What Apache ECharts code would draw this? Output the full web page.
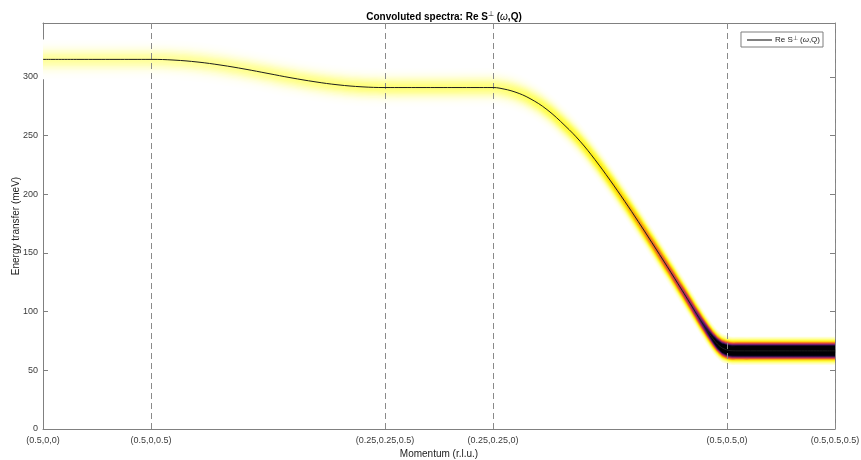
<!DOCTYPE html>
<html><head><meta charset="utf-8">
<script src="https://cdn.jsdelivr.net/npm/echarts@6/dist/echarts.min.js"></script>
<style>html,body{margin:0;padding:0;background:#fff}#c{width:861px;height:460px}</style>
</head><body><div id="c"></div>
<script>
// ---- data ----
const tickPositions = [0, 108, 342, 450, 684, 792];
const tickLabels = ['(0.5,0,0)', '(0.5,0,0.5)', '(0.25,0.25,0.5)', '(0.25,0.25,0)', '(0.5,0.5,0)', '(0.5,0.5,0.5)'];
const energyTicks = [0, 50, 100, 150, 200, 250, 300];
const momentum = [0, 36, 72, 108, 131, 155, 178, 202, 225, 248, 272, 295, 319, 342, 378, 414, 450,
  457, 472, 487, 504, 522, 537, 552, 567, 582, 595, 609, 624, 639, 647, 654, 661, 667, 672, 677, 681, 687, 695,
  720, 756, 792];
const energy = [315, 315, 315, 315, 314.4, 312.7, 310.1, 306.7, 303, 299.3, 295.9, 293.3, 291.6, 291, 291, 291, 291,
  290.4, 287.2, 281.6, 272.2, 258.5, 245.3, 229.5, 212.1, 193.7, 177.1, 158.7, 138.7, 118.3, 107.2, 97.4, 88.0, 80.3, 74.7, 70.4, 68.3, 66.8, 66.6,
  66.6, 66.6, 66.6];
const intensity = [0.075, 0.075, 0.075, 0.075, 0.077, 0.079, 0.082, 0.085, 0.088, 0.091, 0.094, 0.097, 0.1, 0.1, 0.1, 0.1, 0.1,
  0.1, 0.11, 0.125, 0.145, 0.17, 0.19, 0.22, 0.26, 0.31, 0.37, 0.44, 0.52, 0.61, 0.68, 0.76, 0.86, 1.0, 1.2, 1.4, 1.6, 1.72, 1.75,
  1.75, 1.75, 1.75];
const seriesName = 'Re S⊥ (ω,Q)';

// ---- colour map (white -> yellow -> orange -> red -> purple -> black) ----
const cmapStops = [[0, '#ffffff'], [0.12, '#ffff60'], [0.22, '#ffee10'], [0.32, '#fbb010'], [0.42, '#f07020'],
  [0.52, '#d84040'], [0.62, '#a82a62'], [0.72, '#761c6e'], [0.82, '#451070'], [0.91, '#1a0c40'], [1, '#000004']];
function hexRgb(h) { return [parseInt(h.substr(1, 2), 16), parseInt(h.substr(3, 2), 16), parseInt(h.substr(5, 2), 16)]; }
function cmap(v) {
  v = Math.max(0, Math.min(1, v));
  for (let i = 1; i < cmapStops.length; i++) {
    if (v <= cmapStops[i][0]) {
      const a = cmapStops[i - 1], b = cmapStops[i];
      const t = (v - a[0]) / (b[0] - a[0]);
      const ca = hexRgb(a[1]), cb = hexRgb(b[1]);
      return 'rgb(' + ca.map((c, k) => Math.round(c + (cb[k] - c) * t)).join(',') + ')';
    }
  }
  return cmapStops[cmapStops.length - 1][1];
}
function sigmaOf(E) { return 3.6 + 0.0065 * E; }
const layerEdges = [];
for (let d = 3.0; d > 0.05; d -= 0.2) layerEdges.push(d);

function renderGlow(params, api) {
  const n = momentum.length, ext = 40;
  const xs = [momentum[0] - ext].concat(momentum, [momentum[n - 1] + ext]);
  const es = [energy[0]].concat(energy, [energy[n - 1]]);
  const is = [intensity[0]].concat(intensity, [intensity[n - 1]]);
  const x0 = api.coord([xs[0], 0])[0], x1 = api.coord([xs[xs.length - 1], 0])[0];
  const children = [];
  layerEdges.forEach(function (d) {
    const dm = Math.max(d - 0.1, 0);
    const g = Math.exp(-dm * dm / 2);
    const up = [], lo = [];
    for (let i = 0; i < xs.length; i++) {
      const s = sigmaOf(es[i]) * d;
      up.push(api.coord([xs[i], es[i] + s]));
      lo.push(api.coord([xs[i], es[i] - s]));
    }
    const pts = up.concat(lo.reverse());
    const stops = xs.map(function (x, i) {
      return { offset: (api.coord([x, 0])[0] - x0) / (x1 - x0), color: cmap(is[i] * g) };
    });
    children.push({
      type: 'polygon', silent: true,
      shape: { points: pts, smooth: 0.4 },
      style: { fill: new echarts.graphic.LinearGradient(x0, 0, x1, 0, stops, true), lineWidth: 0 }
    });
  });
  return { type: 'group', children: children };
}

const axisCol = '#808080', labCol = '#3a3a3a', FF = 'Liberation Sans, Arial, sans-serif';
const chart = echarts.init(document.getElementById('c'), null, { renderer: 'canvas' });
chart.setOption({
  animation: false,
  backgroundColor: '#ffffff',
  title: {
    text: 'Convoluted spectra: Re S{sup|⊥} ({w|ω},Q)',
    left: 439, top: 6, textAlign: 'center',
    textStyle: {
      fontSize: 10, fontWeight: 'bold', fontFamily: FF, color: '#000',
      rich: { sup: { fontSize: 7, fontWeight: 'normal', verticalAlign: 'top', padding: [0, 0, 5, 0] },
              w: { fontSize: 10, fontWeight: 'normal', fontStyle: 'italic' } }
    }
  },
  legend: {
    data: [seriesName], right: 38, top: 32, padding: [3, 3, 3, 6],
    icon: 'rect', itemWidth: 25, itemHeight: 1, itemGap: 4,
    borderColor: '#7f7f7f', borderWidth: 1, backgroundColor: '#fff',
    formatter: function () { return 'Re S{sup|⊥} ({w|ω},Q)'; },
    textStyle: { fontSize: 8, color: '#222', fontFamily: FF, padding: [0, 0, 0, -2],
      rich: { sup: { fontSize: 6, verticalAlign: 'top', padding: [0, 0, 4, 0] }, w: { fontStyle: 'italic' } } }
  },
  grid: { left: 43, right: 26, top: 23, bottom: 31, containLabel: false, outerBoundsMode: 'none' },
  xAxis: [{
    type: 'value', min: 0, max: 792, position: 'bottom',
    name: 'Momentum (r.l.u.)', nameLocation: 'middle', nameGap: 20, nameMoveOverlap: false,
    nameTextStyle: { fontSize: 10, color: '#222', fontFamily: FF },
    axisLine: { show: true, onZero: false, lineStyle: { color: axisCol, width: 1 } },
    axisTick: { show: true, inside: true, length: 5, customValues: tickPositions, lineStyle: { color: axisCol } },
    axisLabel: { show: true, customValues: tickPositions, margin: 7, fontSize: 9, color: labCol, fontFamily: FF,
      hideOverlap: false,
      formatter: function (v) { const i = tickPositions.indexOf(v); return i >= 0 ? tickLabels[i] : ''; } },
    splitLine: { show: false }
  }, {
    type: 'value', min: 0, max: 792, position: 'top',
    axisLine: { show: true, onZero: false, lineStyle: { color: axisCol, width: 1 } },
    axisTick: { show: true, inside: true, length: 5, customValues: tickPositions, lineStyle: { color: axisCol } },
    axisLabel: { show: false }, splitLine: { show: false }
  }],
  yAxis: [{
    type: 'value', min: 0, max: 346, position: 'left',
    name: 'Energy transfer (meV)', nameLocation: 'middle', nameGap: 22, nameRotate: 90, nameMoveOverlap: false,
    nameTextStyle: { fontSize: 10, color: '#222', fontFamily: FF },
    axisLine: { show: true, onZero: false, lineStyle: { color: axisCol, width: 1 } },
    axisTick: { show: true, inside: true, length: 5, customValues: energyTicks, lineStyle: { color: axisCol } },
    axisLabel: { show: true, customValues: energyTicks, margin: 5, fontSize: 9, color: labCol, fontFamily: FF },
    splitLine: { show: false }
  }, {
    type: 'value', min: 0, max: 346, position: 'right',
    axisLine: { show: true, onZero: false, lineStyle: { color: axisCol, width: 1 } },
    axisTick: { show: true, inside: true, length: 5, customValues: energyTicks, lineStyle: { color: axisCol } },
    axisLabel: { show: false }, splitLine: { show: false }
  }],
  series: [{
    type: 'custom', name: 'glow', renderItem: renderGlow, data: [[0, 0]], clip: true, z: 1, silent: true,
    xAxisIndex: 0, yAxisIndex: 0
  }, {
    type: 'line', name: seriesName, xAxisIndex: 0, yAxisIndex: 0, z: 5,
    data: momentum.map(function (x, i) { return [x, energy[i]]; }),
    smooth: 0.4, symbol: 'none', showSymbol: false,
    lineStyle: { color: '#1e1e1e', width: 1 }, itemStyle: { color: '#000' },
    markLine: {
      silent: true, symbol: ['none', 'none'], label: { show: false }, animation: false,
      lineStyle: { color: '#8a8a8a', type: [6, 4], width: 1 },
      data: tickPositions.slice(1).map(function (v) { return { xAxis: v }; })
    }
  }]
});
</script></body></html>
